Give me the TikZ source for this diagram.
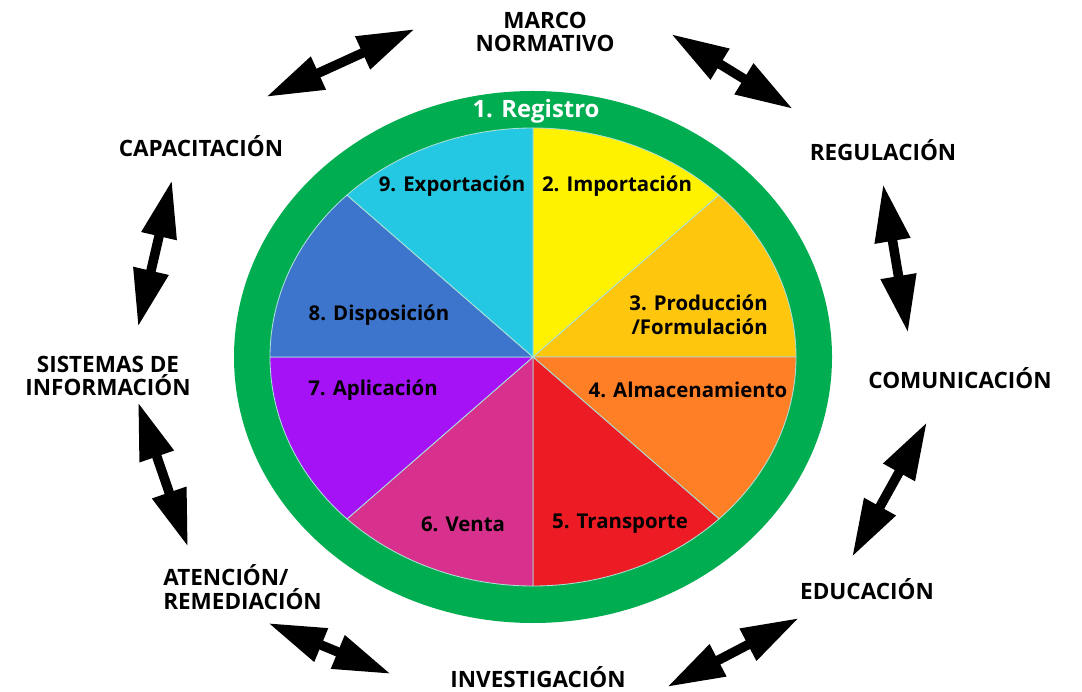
\documentclass[tikz,border=0pt]{standalone}
\usepackage{fontspec}
\setmainfont{Open Sans}
\usetikzlibrary{arrows.meta}

\definecolor{ringgreen}{RGB}{0,173,80}
\definecolor{secyellow}{RGB}{255,242,0}
\definecolor{secgold}{RGB}{255,198,14}
\definecolor{secorange}{RGB}{255,127,39}
\definecolor{secred}{RGB}{237,28,36}
\definecolor{secpink}{RGB}{216,49,141}
\definecolor{secpurple}{RGB}{165,18,245}
\definecolor{secblue}{RGB}{62,117,204}
\definecolor{seccyan}{RGB}{37,200,227}
\definecolor{secline}{RGB}{170,225,215}

\tikzset{
  outer/.style={font=\bfseries\fontsize{16}{17}\selectfont, align=center, inner sep=0pt},
  sector/.style={font=\bfseries\fontsize{14.5}{17}\selectfont, inner sep=0pt},
  slice/.style={draw=secline, line width=0.6pt},
  linkarrow/.style={line width=6.8pt,
    {Triangle[length=41pt,width=24pt]}-{Triangle[length=41pt,width=24pt]}},
}

\begin{document}
\begin{tikzpicture}[x=0.025cm, y=0.025cm]
\def\cx{533}
\def\cy{334}
\def\rx{263}
\def\ry{229}

\useasboundingbox (0,0) rectangle (1082,691);
\fill[white] (0,0) rectangle (1082,691);

% green ring
\fill[ringgreen] (\cx,\cy) ellipse [x radius=299, y radius=266];
\coordinate (c) at (\cx,\cy);

% sectors
\filldraw[slice, fill=secyellow] (c) -- ++(90:{\rx} and {\ry}) arc [start angle=90, end angle=45, x radius=\rx, y radius=\ry] -- cycle;
\filldraw[slice, fill=secgold] (c) -- ++(45:{\rx} and {\ry}) arc [start angle=45, end angle=0, x radius=\rx, y radius=\ry] -- cycle;
\filldraw[slice, fill=secorange] (c) -- ++(0:{\rx} and {\ry}) arc [start angle=0, end angle=-45, x radius=\rx, y radius=\ry] -- cycle;
\filldraw[slice, fill=secred] (c) -- ++(-45:{\rx} and {\ry}) arc [start angle=-45, end angle=-90, x radius=\rx, y radius=\ry] -- cycle;
\filldraw[slice, fill=secpink] (c) -- ++(-90:{\rx} and {\ry}) arc [start angle=-90, end angle=-135, x radius=\rx, y radius=\ry] -- cycle;
\filldraw[slice, fill=secpurple] (c) -- ++(-135:{\rx} and {\ry}) arc [start angle=-135, end angle=-180, x radius=\rx, y radius=\ry] -- cycle;
\filldraw[slice, fill=secblue] (c) -- ++(180:{\rx} and {\ry}) arc [start angle=180, end angle=135, x radius=\rx, y radius=\ry] -- cycle;
\filldraw[slice, fill=seccyan] (c) -- ++(135:{\rx} and {\ry}) arc [start angle=135, end angle=90, x radius=\rx, y radius=\ry] -- cycle;

\node[sector, text=white, font=\bfseries\fontsize{17}{17}\selectfont] (reg) at (536,580) {1. Registro};
\node[sector] (imp) at (617,505) {2. Importación};
\node[sector, align=right, anchor=east] (prod) at (768,376) {3. Producción\\/Formulación};
\node[sector] (alm) at (688,301) {4. Almacenamiento};
\node[sector] (tra) at (620,167) {5. Transporte};
\node[sector] (ven) at (463,167) {6. Venta};
\node[sector] (apl) at (373,301) {7. Aplicación};
\node[sector] (dis) at (379,376) {8. Disposición};
\node[sector] (exp) at (452,505) {9. Exportación};

% outer labels
\node[outer] (marco) at (545,659) {MARCO\\NORMATIVO};
\node[outer] (regu) at (883,541) {REGULACIÓN};
\node[outer] (comu) at (960,313) {COMUNICACIÓN};
\node[outer] (edu) at (867,102) {EDUCACIÓN};
\node[outer] (inv) at (538,14) {INVESTIGACIÓN};
\node[outer, align=left, anchor=west] (aten) at (163,104) {ATENCIÓN/\\REMEDIACIÓN};
\node[outer] (sist) at (108,315) {SISTEMAS DE\\INFORMACIÓN};
\node[outer] (capa) at (201,545) {CAPACITACIÓN};

% arrow ends
\coordinate (a1) at (266,594);
\coordinate (b1) at (415,662);
\coordinate (a2) at (671,657);
\coordinate (b2) at (793,582);
\coordinate (a3) at (883,507);
\coordinate (b3) at (908,358);
\coordinate (a4) at (927,269);
\coordinate (b4) at (852,134);
\coordinate (a5) at (799,73);
\coordinate (b5) at (667,4);
\coordinate (a6) at (268,68);
\coordinate (b6) at (391,17);
\coordinate (a7) at (138,289);
\coordinate (b7) at (188,144);
\coordinate (a8) at (172,511);
\coordinate (b8) at (138,364);

\draw[linkarrow] (a1) -- (b1);
\draw[linkarrow] (a2) -- (b2);
\draw[linkarrow] (a3) -- (b3);
\draw[linkarrow] (a4) -- (b4);
\draw[linkarrow] (a5) -- (b5);
\draw[linkarrow] (a6) -- (b6);
\draw[linkarrow] (a7) -- (b7);
\draw[linkarrow] (a8) -- (b8);

\end{tikzpicture}
\end{document}
